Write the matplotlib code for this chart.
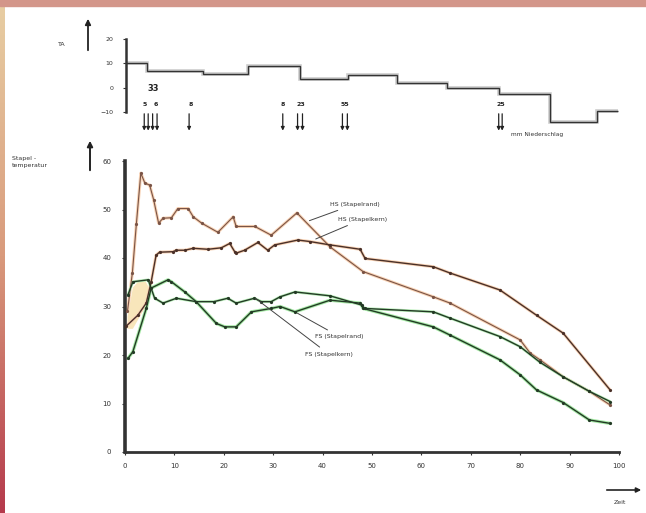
import numpy as np
import matplotlib
matplotlib.use("Agg")
import matplotlib.pyplot as plt
from matplotlib.colors import LinearSegmentedColormap
from matplotlib.patches import Rectangle, FancyArrowPatch

# Stapeltemperatur (°C) ueber der Zeit (Tage)
hs_rand_x = [0.5, 1.5, 2.3, 3.2, 4.0, 5.0, 5.8, 6.8, 7.7, 9.4, 10.7, 12.8, 13.8, 15.5, 18.8,
             21.9, 22.5, 26.3, 29.6, 34.8, 41.5, 48.2, 62.4, 65.8, 80.0, 82.0, 84.0, 88.7, 94.0, 98.2]
hs_rand_y = [29, 37, 47, 57.5, 55.5, 55, 52, 47.2, 48.2, 48.3, 50.2, 50.2, 48.5, 47.2, 45.3,
             48.5, 46.5, 46.5, 44.7, 49.3, 42.3, 37.2, 32, 30.7, 23.1, 20.4, 19, 15.5, 12.5, 9.7]

hs_kern_x = [0.3, 2.6, 4.3, 5.3, 6.3, 7.0, 9.7, 10.4, 12.1, 13.8, 16.8, 19.5, 21.2, 22.2, 22.5,
             24.2, 26.9, 28.9, 30.3, 35.0, 37.4, 41.5, 47.6, 48.6, 62.4, 65.8, 75.9, 83.3, 88.7, 98.2]
hs_kern_y = [26, 28.2, 30.7, 35.1, 40.6, 41.2, 41.3, 41.6, 41.6, 42, 41.8, 42.1, 43, 41.3, 41,
             41.6, 43.2, 41.6, 42.7, 43.7, 43.4, 42.7, 41.8, 39.9, 38.2, 36.9, 33.4, 28.2, 24.5, 12.8]

fs_rand_x = [0.6, 1.6, 4.3, 5.3, 8.7, 9.4, 12.1, 14.4, 18.5, 20.2, 22.5, 25.6, 29.6, 31.4, 34.4,
             41.5, 47.6, 48.2, 62.4, 65.8, 75.9, 80.0, 83.3, 88.7, 94.0, 98.2]
fs_rand_y = [19.3, 20.7, 29.6, 33.8, 35.5, 35.1, 33, 31, 26.5, 25.8, 25.8, 28.9, 29.6, 30, 28.9,
             31.3, 30.7, 29.6, 25.8, 24.1, 19, 15.9, 12.8, 10.2, 6.6, 5.9]

fs_kern_x = [0.6, 1.6, 4.7, 6.0, 7.7, 10.4, 14.4, 18.0, 20.8, 22.5, 26.2, 27.6, 29.6, 31.4, 34.4,
             41.5, 47.9, 48.5, 62.4, 65.8, 75.9, 80.0, 84.0, 88.7, 94.0, 98.2]
fs_kern_y = [32.4, 35.1, 35.5, 31.7, 30.7, 31.7, 31, 31, 31.7, 30.7, 31.7, 31, 31, 32, 33,
             32.2, 30.3, 29.6, 28.9, 27.6, 23.8, 21.7, 18.5, 15.5, 12.5, 10.4]

# Aussentemperatur TA (Stufen)
ta_edges = [0, 4.3, 15.6, 24.7, 35.2, 45.1, 54.9, 65.2, 75.7, 86.0, 95.5, 99.8]
ta_values = [10.3, 6.7, 5.8, 9.0, 3.7, 5.0, 2.0, 0.0, -2.7, -14.3, -9.7]

# Niederschlagsereignisse
rain_x = [3.7, 4.5, 5.4, 6.3, 12.8, 31.8, 34.8, 35.8, 43.9, 44.9, 75.6, 76.3]
rain_labels = ["5", "6", "33", "8", "8", "23", "55", "25"]
rain_label_x = [3.9, 6.1, 5.6, 13.1, 31.8, 35.4, 44.5, 76.0]
rain_label_y = [-6.8, -6.8, -0.3, -6.8, -6.8, -6.8, -6.8, -6.8]

fig = plt.figure(figsize=(6.46, 5.13), dpi=100)
W, H = 646, 513

def box(x0, y0, x1, y1):
    return [x0 / W, 1 - y1 / H, (x1 - x0) / W, (y1 - y0) / H]

# Rand oben und links
fig.patches.append(Rectangle((0, 1 - 6 / H), 1, 6 / H, transform=fig.transFigure,
                             color="#d3968a", zorder=0))
strip = fig.add_axes([0, 0, 5 / W, 1])
grad = np.linspace(0, 1, 256).reshape(-1, 1)
strip.imshow(grad, aspect="auto", cmap=LinearSegmentedColormap.from_list("rand", ["#e8cfa4", "#d99a7c", "#b53a4c"]))
strip.axis("off")

# Hauptdiagramm
ax = fig.add_axes(box(125, 161, 619, 452))
ax.set_xlim(0, 100)
ax.set_ylim(0, 60)
for s in ["top", "right"]:
    ax.spines[s].set_visible(False)
ax.spines["left"].set_linewidth(2.6)
ax.spines["bottom"].set_linewidth(2.0)
ax.spines["left"].set_color("#333333")
ax.spines["bottom"].set_color("#333333")
ax.set_xticks(np.arange(0, 101, 10))
ax.set_yticks(np.arange(0, 61, 10))
ax.tick_params(length=2, width=0.8, labelsize=5, colors="#333333", pad=6)
ax.tick_params(axis="y", pad=8)

ax.fill_between([0.4, 1.5, 2.6, 4.0, 5.0], [28, 34, 35.3, 35.4, 33.5], [25.5, 25.5, 27.5, 30.0, 33.0],
                color="#f8e6bb", lw=0, zorder=1)
ax.plot(hs_rand_x, hs_rand_y, color="#f8d2b4", lw=2.2, solid_capstyle="round", zorder=2)
ax.plot(hs_kern_x, hs_kern_y, color="#f8d2b4", lw=2.2, solid_capstyle="round", zorder=2)
ax.plot(fs_rand_x, fs_rand_y, color="#a6eaa6", lw=2.4, solid_capstyle="round", zorder=2)
ax.plot(fs_kern_x, fs_kern_y, color="#b8eeb8", lw=2.0, solid_capstyle="round", zorder=2)

ax.plot(hs_rand_x, hs_rand_y, color="#7a5446", lw=0.8, marker="o", ms=1.3, zorder=3)
ax.plot(hs_kern_x, hs_kern_y, color="#4a3028", lw=1.0, marker="o", ms=1.3, zorder=3)
ax.plot(fs_rand_x, fs_rand_y, color="#233a25", lw=1.0, marker="o", ms=1.3, zorder=3)
ax.plot(fs_kern_x, fs_kern_y, color="#233a25", lw=1.0, marker="o", ms=1.3, zorder=3)

lead = dict(arrowstyle="-", color="#444444", lw=0.7)
ax.annotate("HS (Stapelrand)", xy=(36.8, 47.5), xytext=(41.5, 51.1), fontsize=4.5,
            va="center", arrowprops=lead, color="#333333")
ax.annotate("HS (Stapelkern)", xy=(38.1, 43.7), xytext=(43.1, 48.0), fontsize=4.5,
            va="center", arrowprops=lead, color="#333333")
ax.annotate("FS (Stapelrand)", xy=(34.4, 28.9), xytext=(38.5, 23.8), fontsize=4.5,
            va="center", arrowprops=lead, color="#333333")
ax.annotate("FS (Stapelkern)", xy=(26.0, 32.0), xytext=(36.4, 20.2), fontsize=4.5,
            va="center", arrowprops=lead, color="#333333")

# Achsbeschriftungen mit Pfeilen
fig.text(12 / W, 1 - 162 / H, "Stapel -\ntemperatur", fontsize=4.5, color="#333333",
         va="center", linespacing=1.6)
fig.patches.append(FancyArrowPatch((90 / W, 1 - 173 / H), (90 / W, 1 - 138 / H),
                   transform=fig.transFigure, arrowstyle="-|>", mutation_scale=8, lw=1.4, color="#222222"))
fig.patches.append(FancyArrowPatch((604 / W, 1 - 490 / H), (644 / W, 1 - 490 / H),
                   transform=fig.transFigure, arrowstyle="-|>", mutation_scale=7, lw=1.2, color="#222222"))
fig.text(614 / W, 1 - 503 / H, "Zeit", fontsize=4.5, color="#333333", va="center")

# Aussentemperatur oben
ax2 = fig.add_axes(box(126, 39, 619, 112))
ax2.set_xlim(0, 100)
ax2.set_ylim(-10, 20)
for s in ["top", "right", "bottom"]:
    ax2.spines[s].set_visible(False)
ax2.spines["left"].set_linewidth(1.8)
ax2.spines["left"].set_color("#333333")
ax2.set_xticks([])
ax2.set_yticks([-10, 0, 10, 20])
ax2.tick_params(length=2, width=0.8, labelsize=4.5, colors="#333333", pad=7)
ax2.patch.set_alpha(0)
ax2.stairs(ta_values, ta_edges, color="#cccccc", lw=2.6, baseline=None, clip_on=False)
ax2.stairs(ta_values, ta_edges, color="#333333", lw=1.0, baseline=None, clip_on=False)

for x in rain_x:
    ax2.annotate("", xy=(x, -18.8), xytext=(x, -9.6), annotation_clip=False,
                 arrowprops=dict(arrowstyle="-|>", mutation_scale=5, lw=0.9, color="#222222"))
for t, x, y in zip(rain_labels, rain_label_x, rain_label_y):
    ax2.text(x, y, t, fontsize=6 if t == "33" else 4.5, fontweight="bold", ha="center",
             va="center", color="#222222", clip_on=False)
ax2.text(78.0, -19.3, "mm Niederschlag", fontsize=4.2, va="center", color="#333333", clip_on=False)

fig.text(58 / W, 1 - 44 / H, "TA", fontsize=4.5, color="#333333", va="center")
fig.patches.append(FancyArrowPatch((88 / W, 1 - 53 / H), (88 / W, 1 - 16 / H),
                   transform=fig.transFigure, arrowstyle="-|>", mutation_scale=8, lw=1.3, color="#222222"))

fig.savefig("out.png", dpi=100)
